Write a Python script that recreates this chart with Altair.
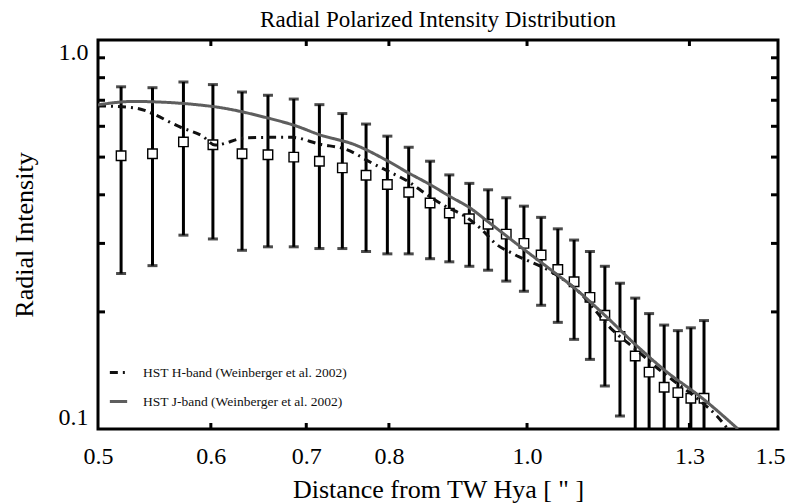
import altair as alt
import pandas as pd

# ---- data ----
pt_x = [0.519, 0.546, 0.574, 0.602, 0.631, 0.658, 0.686, 0.715, 0.742, 0.771,
        0.798, 0.826, 0.855, 0.882, 0.911, 0.939, 0.967, 0.995, 1.023, 1.051,
        1.079, 1.107, 1.134, 1.162, 1.191, 1.218, 1.248, 1.276, 1.303, 1.331]
pt_y = [0.504, 0.510, 0.547, 0.538, 0.510, 0.507, 0.500, 0.488, 0.469, 0.449,
        0.425, 0.406, 0.381, 0.359, 0.347, 0.336, 0.317, 0.300, 0.280, 0.257,
        0.239, 0.218, 0.196, 0.173, 0.154, 0.140, 0.128, 0.124, 0.120, 0.120]
pt_hi = [0.758, 0.754, 0.780, 0.768, 0.735, 0.721, 0.705, 0.682, 0.647, 0.608,
         0.566, 0.530, 0.488, 0.450, 0.428, 0.412, 0.393, 0.374, 0.350, 0.327,
         0.306, 0.286, 0.262, 0.237, 0.217, 0.198, 0.185, 0.179, 0.182, 0.190]
pt_lo = [0.251, 0.263, 0.315, 0.308, 0.288, 0.294, 0.294, 0.291, 0.291, 0.286,
         0.282, 0.282, 0.274, 0.269, 0.262, 0.256, 0.240, 0.226, 0.208, 0.188,
         0.170, 0.151, 0.129, 0.108, 0.07, 0.06, 0.05, 0.05, 0.05, 0.05]

h_name = "HST H-band (Weinberger et al. 2002)"
j_name = "HST J-band (Weinberger et al. 2002)"
h_x = [0.5, 0.529, 0.573, 0.592, 0.604, 0.634, 0.658, 0.684, 0.715, 0.748,
       0.778, 0.799, 0.825, 0.851, 0.876, 0.905, 0.930, 0.950, 0.978, 1.043,
       1.089, 1.144, 1.200, 1.230, 1.264, 1.323, 1.359, 1.383]
h_y = [0.677, 0.670, 0.594, 0.566, 0.537, 0.560, 0.562, 0.562, 0.540, 0.522,
       0.483, 0.460, 0.433, 0.400, 0.374, 0.352, 0.325, 0.300, 0.282, 0.252,
       0.224, 0.182, 0.157, 0.145, 0.134, 0.118, 0.108, 0.100]
j_x = [0.5, 0.529, 0.601, 0.658, 0.687, 0.715, 0.757, 0.799, 0.826, 0.855,
       0.883, 0.912, 0.939, 0.992, 1.049, 1.077, 1.134, 1.191, 1.248, 1.331, 1.406]
j_y = [0.681, 0.695, 0.675, 0.630, 0.603, 0.571, 0.538, 0.488, 0.455, 0.425,
       0.396, 0.370, 0.341, 0.292, 0.250, 0.232, 0.196, 0.165, 0.142, 0.119, 0.100]

x_label_vals = [0.5, 0.6, 0.7, 0.8, 1.0, 1.3, 1.5]
x_tick_vals = [0.6, 0.7, 0.8, 1.0, 1.3]
y_label_vals = [0.1, 1.0]
y_tick_vals = [0.2, 0.3, 0.4, 0.5, 0.6, 0.7, 0.8, 0.9]

# ---- tables ----
pts = pd.DataFrame({"x": pt_x, "y": pt_y, "hi": pt_hi, "lo": pt_lo})
lines = pd.concat([
    pd.DataFrame({"x": h_x, "y": h_y, "band": h_name}),
    pd.DataFrame({"x": j_x, "y": j_y, "band": j_name}),
])
xt = pd.DataFrame({"v": x_tick_vals})
yt = pd.DataFrame({"v": y_tick_vals})

W, H = 680, 389
SERIF = "Liberation Serif"
xs = alt.Scale(type="log", domain=[0.5, 1.5], nice=False)
ys = alt.Scale(type="log", domain=[0.1, 1.0], nice=False)

XAX = alt.Axis(
    values=x_label_vals, format=".1f", title='Distance from TW Hya [ " ]',
    grid=False, ticks=False, domain=False, labelFlush=False,
    labelOffset={"condition": {"test": "datum.value > 1.4", "value": -8},
                 "value": 0},
    labelFont=SERIF, labelFontSize=24, labelColor="black", labelPadding=15,
    titleFont=SERIF, titleFontSize=26, titleFontWeight="normal",
    titleColor="black", titlePadding=8)
YAX = alt.Axis(
    values=y_label_vals, format=".1f", title="Radial Intensity",
    grid=False, ticks=False, domain=False, labelFlush=True,
    labelFont=SERIF, labelFontSize=24, labelColor="black", labelPadding=10,
    titleFont=SERIF, titleFontSize=26, titleFontWeight="normal",
    titleColor="black", titlePadding=21)


def X(f):
    return alt.X(f, scale=xs, axis=XAX)


def Y(f):
    return alt.Y(f, scale=ys, axis=YAX)


bars = alt.Chart(pts).mark_rule(color="black", strokeWidth=3, clip=True).encode(
    x=X("x:Q"), y=Y("lo:Q"), y2="hi:Q",
)
cap_hi = alt.Chart(pts).mark_tick(color="black", orient="horizontal", size=10,
                                  thickness=3, clip=True).encode(
    x=X("x:Q"), y=Y("hi:Q"),
)
cap_lo = alt.Chart(pts).mark_tick(color="black", orient="horizontal", size=10,
                                  thickness=3, clip=True).encode(
    x=X("x:Q"), y=Y("lo:Q"),
)

squares = alt.Chart(pts).mark_point(shape="square", size=90, filled=True,
                                    fill="white", stroke="black",
                                    strokeWidth=1.4, opacity=1).encode(
    x=X("x:Q"), y=Y("y:Q"),
)

leg = alt.Legend(title=None, orient="none", legendX=10, legendY=322, padding=0,
                 symbolType="stroke", symbolStrokeWidth=3, symbolSize=300,
                 labelFont=SERIF, labelFontSize=13.5, labelColor="#111",
                 labelLimit=400, labelOffset=14, rowPadding=12)
line_layer = alt.Chart(lines).mark_line(strokeWidth=3, interpolate="monotone",
                                        clip=True).encode(
    x=X("x:Q"), y=Y("y:Q"),
    color=alt.Color("band:N", scale=alt.Scale(domain=[h_name, j_name],
                                              range=["#111111", "#5e5e5e"]),
                    legend=leg),
    strokeDash=alt.StrokeDash("band:N", scale=alt.Scale(
        domain=[h_name, j_name], range=[[8, 5, 2, 5], [1, 0]]), legend=leg),
    order=alt.Order("x:Q"),
)

tick_l = alt.Chart(yt).mark_rule(color="black", strokeWidth=3).encode(
    y=Y("v:Q"), x=alt.value(0), x2=alt.value(7))
tick_r = alt.Chart(yt).mark_rule(color="black", strokeWidth=3).encode(
    y=Y("v:Q"), x=alt.value(W - 7), x2=alt.value(W))
tick_b = alt.Chart(xt).mark_rule(color="black", strokeWidth=3).encode(
    x=X("v:Q"), y=alt.value(H - 6), y2=alt.value(H))
tick_t = alt.Chart(xt).mark_rule(color="black", strokeWidth=3).encode(
    x=X("v:Q"), y=alt.value(0), y2=alt.value(6))

chart = alt.layer(
    bars, cap_hi, cap_lo, squares, line_layer, tick_l, tick_r, tick_b, tick_t
).properties(
    width=W, height=H,
    background="white",
    title=alt.TitleParams("Radial Polarized Intensity Distribution", font=SERIF,
                          fontSize=23, fontWeight="normal", color="black",
                          anchor="middle", offset=7),
    padding={"left": 90, "top": 32, "right": 8, "bottom": 75},
    autosize=alt.AutoSizeParams(type="none"),
).configure_view(stroke="black", strokeWidth=3)

chart.save("out.html", embed_options={"renderer": "svg", "actions": False})
